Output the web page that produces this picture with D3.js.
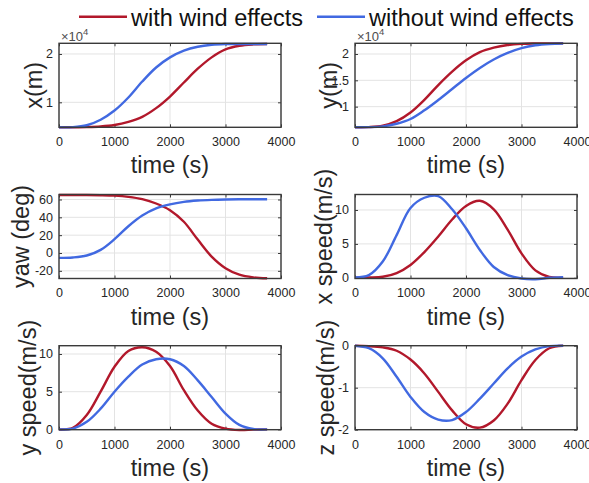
<!DOCTYPE html>
<html>
<head>
<meta charset="utf-8">
<script src="https://cdn.jsdelivr.net/npm/d3@7"></script>
<style>
  html, body { margin: 0; padding: 0; background: #fff; }
  svg { display: block; font-family: "Liberation Sans", Arial, Helvetica, sans-serif; }
</style>
</head>
<body>
<svg id="chart" width="589" height="483"></svg>
<script>
// Sample times (s)
const time = [0, 250, 500, 750, 1000, 1250, 1500, 1750, 2000, 2250, 2500, 2750, 3000, 3250, 3500, 3750];

// Position x (m)
const xPosWind   = [4830, 4840, 4880, 5000, 5300, 5950, 7000, 8800, 11200, 14100, 16950, 19300, 20950, 21700, 21980, 22050];
const xPosNoWind = [4830, 4860, 5250, 6400, 8300, 11000, 14300, 17200, 19300, 20700, 21500, 21900, 22050, 22070, 22070, 22070];

// Position y (m)
const yPosWind   = [6100, 6120, 6380, 7250, 8900, 11300, 14100, 16650, 18800, 20350, 21200, 21700, 21930, 22000, 22020, 22030];
const yPosNoWind = [6100, 6110, 6250, 6750, 7650, 9300, 11250, 13350, 15450, 17350, 18950, 20200, 21100, 21650, 21900, 21980];

// Yaw (deg)
const yawWind   = [65, 65, 65, 64.8, 64.3, 63, 60.4, 55.5, 48, 35, 15, -4, -17, -24.3, -27.3, -28.3];
const yawNoWind = [-5.5, -5, -2.8, 3.5, 15.5, 30, 42, 50, 54.5, 57.3, 58.8, 59.6, 60, 60.2, 60.3, 60.3];

// Speed components (m/s)
const vxWind   = [0, 0.05, 0.15, 0.7, 1.9, 3.8, 6.1, 8.6, 10.6, 11.35, 10.1, 7.1, 3.6, 1.1, 0.15, 0.05];
const vxNoWind = [0.05, 0.4, 2.4, 6.3, 10.3, 11.8, 12.05, 10.1, 7.3, 4.1, 1.6, 0.4, -0.1, -0.2, 0, 0.1];
const vyWind   = [0, 0.2, 1.9, 5, 8.3, 10.4, 10.9, 10.3, 8.4, 5.2, 2.5, 0.75, 0.1, -0.08, -0.03, 0];
const vyNoWind = [0, 0.1, 1, 2.75, 5, 7, 8.6, 9.3, 9.3, 8.4, 6.5, 4.3, 2.1, 0.6, 0.05, 0];
const vzWind   = [0, -0.01, -0.04, -0.12, -0.33, -0.66, -1.1, -1.54, -1.87, -1.95, -1.78, -1.38, -0.82, -0.34, -0.06, 0];
const vzNoWind = [0, -0.06, -0.3, -0.74, -1.22, -1.58, -1.76, -1.77, -1.58, -1.26, -0.9, -0.54, -0.26, -0.09, -0.01, 0];

// Axis ticks
const timeTicks = [0, 1000, 2000, 3000, 4000];
const xPosTicks = [10000, 20000];
const yPosTicks = [10000, 15000, 20000];
const yawTicks  = [-20, 0, 20, 40, 60];
const vxTicks   = [0, 5, 10];
const vyTicks   = [0, 5, 10];
const vzTicks   = [-2, -1, 0];

const seriesNames = ["with wind effects", "without wind effects"];
const colors = ["#b2182b", "#4169e1"];

const plain = d => String(d);
const scaled = d => d3.format("~g")(d / 1e4);

const panels = [
  { label: "x(m)",         wind: xPosWind, noWind: xPosNoWind, domain: [4830, 22210], ticks: xPosTicks, fmt: scaled, exp: true,  col: 0, row: 0, labelX: 34 },
  { label: "y(m)",         wind: yPosWind, noWind: yPosNoWind, domain: [6080, 22030], ticks: yPosTicks, fmt: scaled, exp: true,  col: 1, row: 0, labelX: 329 },
  { label: "yaw (deg)",    wind: yawWind,  noWind: yawNoWind,  domain: [-28.6, 65.6], ticks: yawTicks,  fmt: plain,  exp: false, col: 0, row: 1, labelX: 21 },
  { label: "x speed(m/s)", wind: vxWind,   noWind: vxNoWind,   domain: [-0.1, 12.28], ticks: vxTicks,   fmt: plain,  exp: false, col: 1, row: 1, labelX: 324 },
  { label: "y speed(m/s)", wind: vyWind,   noWind: vyNoWind,   domain: [-0.04, 11.1], ticks: vyTicks,   fmt: plain,  exp: false, col: 0, row: 2, labelX: 27.5 },
  { label: "z speed(m/s)", wind: vzWind,   noWind: vzNoWind,   domain: [-2, 0],       ticks: vzTicks,   fmt: plain,  exp: false, col: 1, row: 2, labelX: 326 }
];

// Layout of the 3x2 grid of axes
const colLeft = [59, 355];
const axW = 222;
const rowTop = [43.3, 194.5, 345.7];
const axH = 84;

const svg = d3.select("#chart");
const textColor = "#262626";
const tickLen = 3;

panels.forEach(p => {
  const x0 = colLeft[p.col], y0 = rowTop[p.row];
  const g = svg.append("g").attr("transform", `translate(${x0},${y0})`);
  const xs = d3.scaleLinear().domain([0, 4000]).range([0, axW]);
  const ys = d3.scaleLinear().domain(p.domain).range([axH, 0]);

  // grid
  g.append("g").selectAll("line").data(timeTicks).join("line")
    .attr("x1", d => xs(d)).attr("x2", d => xs(d)).attr("y1", 0).attr("y2", axH)
    .attr("stroke", "#e3e3e3").attr("stroke-width", 1);
  g.append("g").selectAll("line").data(p.ticks).join("line")
    .attr("x1", 0).attr("x2", axW).attr("y1", d => ys(d)).attr("y2", d => ys(d))
    .attr("stroke", "#e3e3e3").attr("stroke-width", 1);

  // bottom / left axes with inward ticks
  const xAxis = d3.axisBottom(xs).tickValues(timeTicks).tickFormat(d3.format("d"))
    .tickSizeInner(-tickLen).tickSizeOuter(0).tickPadding(10);
  g.append("g").attr("transform", `translate(0,${axH})`).call(xAxis);
  const yAxis = d3.axisLeft(ys).tickValues(p.ticks).tickFormat(p.fmt)
    .tickSizeInner(-tickLen).tickSizeOuter(0).tickPadding(6);
  g.append("g").call(yAxis);
  // mirrored ticks on top / right
  g.append("g").call(d3.axisTop(xs).tickValues(timeTicks).tickSizeInner(-tickLen).tickSizeOuter(0).tickFormat(""));
  g.append("g").attr("transform", `translate(${axW},0)`)
    .call(d3.axisRight(ys).tickValues(p.ticks).tickSizeInner(-tickLen).tickSizeOuter(0).tickFormat(""));

  g.selectAll(".domain").remove();
  g.selectAll(".tick line").attr("stroke", "#3a3a3a").attr("stroke-width", 1);
  g.selectAll(".tick text").attr("fill", textColor).attr("font-size", 12.5)
    .attr("font-family", "'Liberation Sans', Arial, sans-serif");

  // data lines
  const line = d3.line().x((d, i) => xs(time[i])).y(d => ys(d)).curve(d3.curveCatmullRom.alpha(0.5));
  [p.wind, p.noWind].forEach((vals, k) => {
    g.append("path").datum(vals).attr("d", line)
      .attr("fill", "none").attr("stroke", colors[k]).attr("stroke-width", 2.4)
      .attr("stroke-linejoin", "round").attr("stroke-linecap", "butt");
  });

  // box
  g.append("rect").attr("x", 0).attr("y", 0).attr("width", axW).attr("height", axH)
    .attr("fill", "none").attr("stroke", "#3a3a3a").attr("stroke-width", 1.4);

  // exponent marker
  if (p.exp) {
    const t = g.append("text").attr("x", 2).attr("y", -2.5).attr("fill", "#4d4d4d").attr("font-size", 13);
    t.append("tspan").text("×10");
    t.append("tspan").attr("font-size", 9.5).attr("dy", -6).text("4");
  }

  // axis titles
  svg.append("text").attr("x", x0 + axW / 2).attr("y", y0 + axH + 46)
    .attr("text-anchor", "middle").attr("font-size", 23.5).attr("fill", textColor).text("time (s)");
  svg.append("text")
    .attr("transform", `translate(${p.labelX},${y0 + axH / 2}) rotate(-90)`)
    .attr("text-anchor", "middle").attr("dy", "0.35em")
    .attr("font-size", 23.5).attr("fill", textColor).text(p.label);
});

// legend
const legend = svg.append("g");
const legendItems = [{ x: 79, name: seriesNames[0], c: colors[0] }, { x: 317, name: seriesNames[1], c: colors[1] }];
legendItems.forEach(it => {
  legend.append("line").attr("x1", it.x).attr("x2", it.x + 48).attr("y1", 16.7).attr("y2", 16.7)
    .attr("stroke", it.c).attr("stroke-width", 2.4);
  legend.append("text").attr("x", it.x + 52).attr("y", 26.3).attr("font-size", 23.5)
    .attr("fill", "#111").text(it.name);
});
</script>
</body>
</html>
